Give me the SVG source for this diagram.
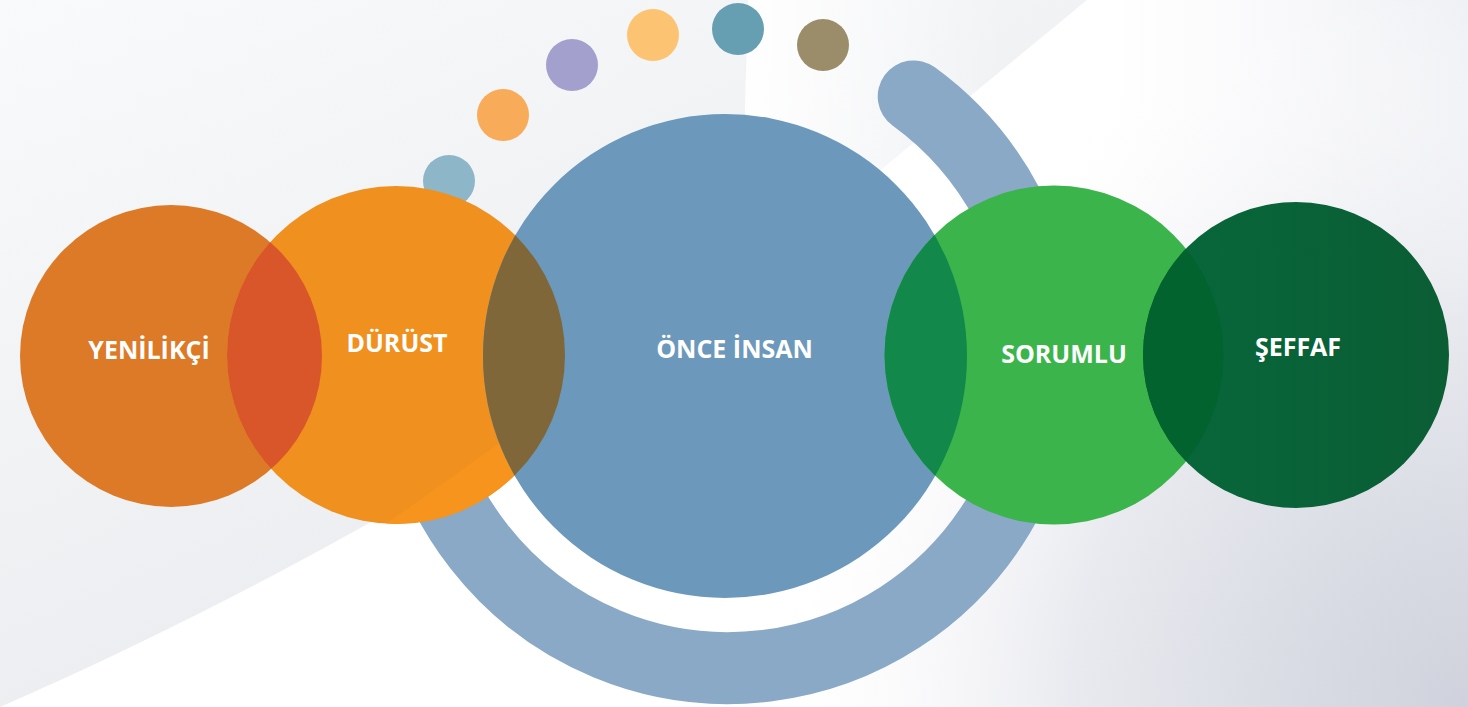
<svg xmlns="http://www.w3.org/2000/svg" width="1468" height="707" viewBox="0 0 1468 707">
  <style>
    .lbl { font-family: "Open Sans", "Liberation Sans", sans-serif; font-weight: 700; font-size: 25px; fill: #ffffff; text-anchor: middle; }
    .dot { stroke: none; }
  </style>
  <defs>
    <linearGradient id="grayTop" gradientUnits="userSpaceOnUse" x1="0" y1="0" x2="300" y2="700">
      <stop offset="0" stop-color="#f9fafb"/>
      <stop offset="1" stop-color="#eaecef"/>
    </linearGradient>
    <linearGradient id="wedge" gradientUnits="userSpaceOnUse" x1="748" y1="0" x2="1010" y2="0">
      <stop offset="0" stop-color="#ffffff" stop-opacity="0.95"/>
      <stop offset="1" stop-color="#ffffff" stop-opacity="0"/>
    </linearGradient>
    <radialGradient id="cornerShade" gradientUnits="userSpaceOnUse" cx="1468" cy="707" r="720">
      <stop offset="0" stop-color="#cfd1dc" stop-opacity="1"/>
      <stop offset="0.3" stop-color="#dcdee6" stop-opacity="1"/>
      <stop offset="0.55" stop-color="#e9eaef" stop-opacity="1"/>
      <stop offset="1" stop-color="#ffffff" stop-opacity="0"/>
    </radialGradient>
    <linearGradient id="topRight" gradientUnits="userSpaceOnUse" x1="1100" y1="0" x2="1468" y2="0">
      <stop offset="0" stop-color="#f3f4f7" stop-opacity="0"/>
      <stop offset="1" stop-color="#eff0f4" stop-opacity="1"/>
    </linearGradient>
    <linearGradient id="seffafGrad" x1="0" y1="0" x2="1" y2="0">
      <stop offset="0" stop-color="#07683b"/>
      <stop offset="1" stop-color="#0b5d34"/>
    </linearGradient>
    <circle id="cYen" cx="171" cy="356" r="151"/>
    <circle id="cDur" cx="396" cy="355" r="169"/>
    <circle id="cOnce" cx="725" cy="356" r="242"/>
    <circle id="cSor" cx="1054" cy="355" r="169.5"/>
    <circle id="cSef" cx="1296" cy="355" r="153"/>
    <clipPath id="clipDur"><use href="#cDur"/></clipPath>
    <clipPath id="clipOnce"><use href="#cOnce"/></clipPath>
    <clipPath id="clipSor"><use href="#cSor"/></clipPath>
  </defs>

  <!-- background -->
  <g id="background">
    <rect x="0" y="0" width="1468" height="707" fill="#ffffff"/>
    <rect x="1100" y="0" width="368" height="707" fill="url(#topRight)"/>
    <rect x="0" y="0" width="1468" height="707" fill="url(#cornerShade)"/>
    <path d="M0,0 L1087,0 L884,167 C800,240 650,355 501,446 C380,520 200,620 0,707 Z" fill="url(#grayTop)"/>
    <path d="M748,0 L1087,0 L884,167 C800,240 760,270 740,285 Z" fill="url(#wedge)"/>
  </g>

  <!-- decorative ring and dots -->
  <g id="decor">
    <path d="M913.7,96.4 A316,316 0 1 1 418.9,417.7" fill="none" stroke="#89a9c6" stroke-width="72" stroke-linecap="round"/>
    <circle class="dot" cx="449" cy="181" r="26" fill="#8db6c9"/>
    <circle class="dot" cx="503" cy="115" r="26" fill="#f8ab58"/>
    <circle class="dot" cx="572" cy="65" r="26" fill="#a3a0cd"/>
    <circle class="dot" cx="653" cy="35" r="26" fill="#fcc373"/>
    <circle class="dot" cx="738" cy="29" r="26" fill="#679fb2"/>
    <circle class="dot" cx="823" cy="45" r="26" fill="#9b8c6a"/>
  </g>

  <g id="node-yenilikci">
    <use href="#cYen" fill="#dd7a28"/>
  </g>
  <g id="node-durust">
    <use href="#cDur" fill="#f0901f"/>
    <path d="M300,600 L300,585 L560,400 L600,600 Z" fill="#f7941d" clip-path="url(#clipDur)"/>
    <use href="#cYen" fill="#d9562a" clip-path="url(#clipDur)"/>
  </g>
  <g id="node-once-insan">
    <use href="#cOnce" fill="#6b98bb"/>
    <use href="#cDur" fill="#7f673a" clip-path="url(#clipOnce)"/>
  </g>
  <g id="node-sorumlu">
    <use href="#cSor" fill="#3bb44c"/>
    <use href="#cOnce" fill="#12884a" clip-path="url(#clipSor)"/>
  </g>
  <g id="node-seffaf">
    <use href="#cSef" fill="url(#seffafGrad)"/>
    <use href="#cSef" fill="#02632f" clip-path="url(#clipSor)"/>
  </g>

  <g id="labels">
    <text class="lbl" x="149" y="359">YENİLİKÇİ</text>
    <text class="lbl" x="397" y="352">DÜRÜST</text>
    <text class="lbl" x="734.5" y="358">ÖNCE İNSAN</text>
    <text class="lbl" x="1064" y="363">SORUMLU</text>
    <text class="lbl" x="1298" y="356">ŞEFFAF</text>
  </g>
</svg>
